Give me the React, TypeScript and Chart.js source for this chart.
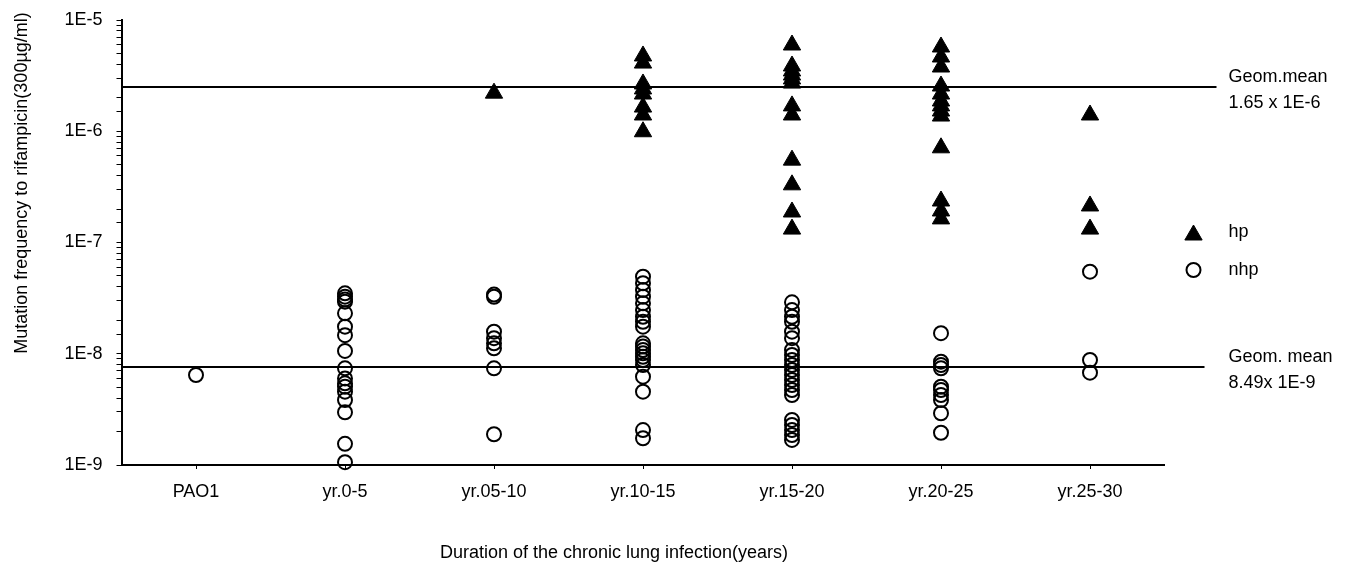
import { useEffect, useRef } from 'react';
import { Chart, registerables } from 'chart.js';

Chart.register(...registerables);

// ---------- data ----------
const categories = ['PAO1', 'yr.0-5', 'yr.05-10', 'yr.10-15', 'yr.15-20', 'yr.20-25', 'yr.25-30'];
const seriesNames = ['hp', 'nhp'];

// hp isolates (filled triangles)
const hpPAO1: number[] = [];
const hpYr0to5: number[] = [];
const hpYr05to10 = [2.2e-6];
const hpYr10to15 = [4.75e-6, 4.1e-6, 2.66e-6, 2.4e-6, 2.16e-6, 1.65e-6, 1.4e-6, 9.9e-7];
const hpYr15to20 = [5.96e-6, 3.86e-6, 3.48e-6, 3.2e-6, 2.95e-6, 2.71e-6, 1.69e-6, 1.4e-6, 5.5e-7, 3.3e-7, 1.88e-7, 1.32e-7];
const hpYr20to25 = [5.72e-6, 4.65e-6, 3.78e-6, 2.55e-6, 2.16e-6, 1.87e-6, 1.69e-6, 1.52e-6, 1.37e-6, 7.1e-7, 2.36e-7, 1.92e-7, 1.63e-7];
const hpYr25to30 = [1.4e-6, 2.13e-7, 1.32e-7];

// nhp isolates (open circles)
const nhpPAO1 = [6.44e-9];
const nhpYr0to5 = [3.49e-8, 3.26e-8, 3.08e-8, 2.94e-8, 2.31e-8, 1.75e-8, 1.47e-8, 1.06e-8, 7.4e-9, 6.0e-9, 5.42e-9, 5.06e-9, 4.56e-9, 3.84e-9, 2.98e-9, 1.55e-9, 1.06e-9];
const nhpYr05to10 = [3.4e-8, 3.25e-8, 1.58e-8, 1.38e-8, 1.24e-8, 1.12e-8, 7.4e-9, 1.89e-9];
const nhpYr10to15 = [4.93e-8, 4.3e-8, 3.74e-8, 3.26e-8, 2.84e-8, 2.47e-8, 2.15e-8, 1.94e-8, 1.75e-8, 1.24e-8, 1.16e-8, 1.08e-8, 1.01e-8, 9.4e-9, 8.79e-9, 7.92e-9, 6.22e-9, 4.56e-9, 2.06e-9, 1.74e-9];
const nhpYr15to20 = [2.9e-8, 2.47e-8, 2.15e-8, 1.94e-8, 1.58e-8, 1.38e-8, 1.08e-8, 9.75e-9, 8.79e-9, 7.92e-9, 7.14e-9, 6.44e-9, 5.81e-9, 5.24e-9, 4.72e-9, 4.26e-9, 2.54e-9, 2.29e-9, 2.06e-9, 1.86e-9, 1.68e-9];
const nhpYr20to25 = [1.53e-8, 8.49e-9, 7.92e-9, 7.4e-9, 5.06e-9, 4.72e-9, 4.26e-9, 3.84e-9, 2.92e-9, 1.95e-9];
const nhpYr25to30 = [5.47e-8, 8.79e-9, 6.76e-9];

// geometric-mean reference lines (as drawn) and their captions
const geomMeanLineValues = [2.5e-6, 7.6e-9];
const geomMeanCaptionTop = ['Geom.mean', 'Geom. mean'];
const geomMeanCaptionBottom = ['1.65 x 1E-6', '8.49x 1E-9'];

const xAxisTitle = 'Duration of the chronic lung infection(years)';
const yAxisTitle = 'Mutation frequency to rifampicin(300µg/ml)';

const hpByCategory = [hpPAO1, hpYr0to5, hpYr05to10, hpYr10to15, hpYr15to20, hpYr20to25, hpYr25to30];
const nhpByCategory = [nhpPAO1, nhpYr0to5, nhpYr05to10, nhpYr10to15, nhpYr15to20, nhpYr20to25, nhpYr25to30];

const toPoints = (groups: number[][]) =>
  groups.flatMap((vals, i) => vals.map((v) => ({ x: i, y: v })));

const FONT = '"Liberation Sans", Arial, Helvetica, sans-serif';

const sidePlugin = {
  id: 'sideAnnotations',
  afterDatasetsDraw(chart: any) {
    const { ctx, chartArea, scales } = chart;
    const yScale = scales.y;
    ctx.save();
    ctx.strokeStyle = '#000';
    ctx.lineWidth = 2;
    ctx.fillStyle = '#000';
    ctx.font = `18px ${FONT}`;
    ctx.textAlign = 'left';
    ctx.textBaseline = 'middle';

    // geometric mean lines + captions
    const lineExt = [52, 40];
    geomMeanLineValues.forEach((v, i) => {
      const py = Math.round(yScale.getPixelForValue(v));
      ctx.beginPath();
      ctx.moveTo(chartArea.left, py);
      ctx.lineTo(chartArea.right + lineExt[i], py);
      ctx.stroke();
      const tx = chartArea.right + 64;
      ctx.fillText(geomMeanCaptionTop[i], tx, py - 10);
      ctx.fillText(geomMeanCaptionBottom[i], tx, py + 16);
    });

    // legend
    const lx = chartArea.right + 29;
    const ly = [chartArea.top + 215, chartArea.top + 250];
    const ty = [chartArea.top + 212, chartArea.top + 250];
    chart.data.datasets.forEach((ds: any, i: number) => {
      const y = ly[i];
      const r = ds.pointRadius;
      ctx.beginPath();
      if (ds.pointStyle === 'triangle') {
        let rad = 0;
        ctx.moveTo(lx + Math.sin(rad) * r, y - Math.cos(rad) * r);
        rad += (2 * Math.PI) / 3;
        ctx.lineTo(lx + Math.sin(rad) * r, y - Math.cos(rad) * r);
        rad += (2 * Math.PI) / 3;
        ctx.lineTo(lx + Math.sin(rad) * r, y - Math.cos(rad) * r);
        ctx.closePath();
        ctx.fillStyle = ds.backgroundColor;
        ctx.fill();
        ctx.lineWidth = ds.borderWidth;
        ctx.strokeStyle = ds.borderColor;
        ctx.stroke();
      } else {
        ctx.arc(lx, y, r, 0, Math.PI * 2);
        ctx.lineWidth = ds.borderWidth;
        ctx.strokeStyle = ds.borderColor;
        ctx.stroke();
      }
      ctx.fillStyle = '#000';
      ctx.fillText(seriesNames[i], chartArea.right + 64, ty[i]);
    });

    // axis titles
    ctx.textAlign = 'center';
    ctx.fillText(xAxisTitle, (chartArea.left + chartArea.right) / 2 - 29, 545);
    ctx.save();
    ctx.translate(14, chartArea.top + 163);
    ctx.rotate(-Math.PI / 2);
    ctx.fillText(yAxisTitle, 0, 0);
    ctx.restore();

    ctx.restore();
  },
};

export default function App() {
  const canvasRef = useRef<HTMLCanvasElement | null>(null);

  useEffect(() => {
    if (!canvasRef.current) return;
    Chart.defaults.font.family = FONT;
    Chart.defaults.font.size = 18;
    Chart.defaults.color = '#000';

    const chart = new Chart(canvasRef.current, {
      type: 'scatter',
      data: {
        datasets: [
          {
            label: seriesNames[0],
            data: toPoints(hpByCategory),
            pointStyle: 'triangle',
            pointRadius: 10,
            pointHoverRadius: 10,
            backgroundColor: '#000',
            borderColor: '#000',
            borderWidth: 1,
            clip: false,
          },
          {
            label: seriesNames[1],
            data: toPoints(nhpByCategory),
            pointStyle: 'circle',
            pointRadius: 7,
            pointHoverRadius: 7,
            backgroundColor: 'rgba(0,0,0,0)',
            borderColor: '#000',
            borderWidth: 2,
            clip: false,
          },
        ] as any,
      },
      options: {
        animation: false,
        responsive: true,
        maintainAspectRatio: false,
        layout: { padding: { top: 12, right: 175.5, left: 0, bottom: 0 } },
        plugins: {
          legend: { display: false },
          tooltip: { enabled: false },
        },
        scales: {
          x: {
            type: 'linear',
            min: -0.5,
            max: 6.5,
            afterBuildTicks: (scale: any) => {
              scale.ticks = categories.map((_, i) => ({ value: i }));
            },
            afterFit: (scale: any) => {
              scale.height = 103;
              scale.paddingLeft = 0;
              scale.paddingRight = 0;
            },
            ticks: {
              autoSkip: false,
              maxRotation: 0,
              padding: 12,
              font: { size: 18 },
              callback: (v: any) => categories[v as number] ?? '',
            },
            grid: { drawOnChartArea: false, drawTicks: true, tickLength: 4, color: '#000' },
            border: { display: true, color: '#000', width: 2 },
            title: { display: false },
          },
          y: {
            type: 'logarithmic',
            min: 1e-9,
            max: 1e-5,
            afterFit: (scale: any) => {
              scale.width = 113.5;
              scale.paddingTop = 0;
              scale.paddingBottom = 0;
            },
            ticks: {
              autoSkip: false,
              padding: 14,
              font: { size: 18 },
              callback: (v: any) => {
                const e = Math.log10(Number(v));
                return Math.abs(e - Math.round(e)) < 1e-6 ? `1E${Math.round(e)}` : '';
              },
            },
            grid: { drawOnChartArea: false, drawTicks: true, tickLength: 5, color: '#000' },
            border: { display: true, color: '#000', width: 2 },
            title: { display: false },
          },
        },
      } as any,
      plugins: [sidePlugin],
    });
    return () => chart.destroy();
  }, []);

  return (
    <div style={{ width: 1332, height: 560, position: 'relative' }}>
      <canvas ref={canvasRef} />
    </div>
  );
}
